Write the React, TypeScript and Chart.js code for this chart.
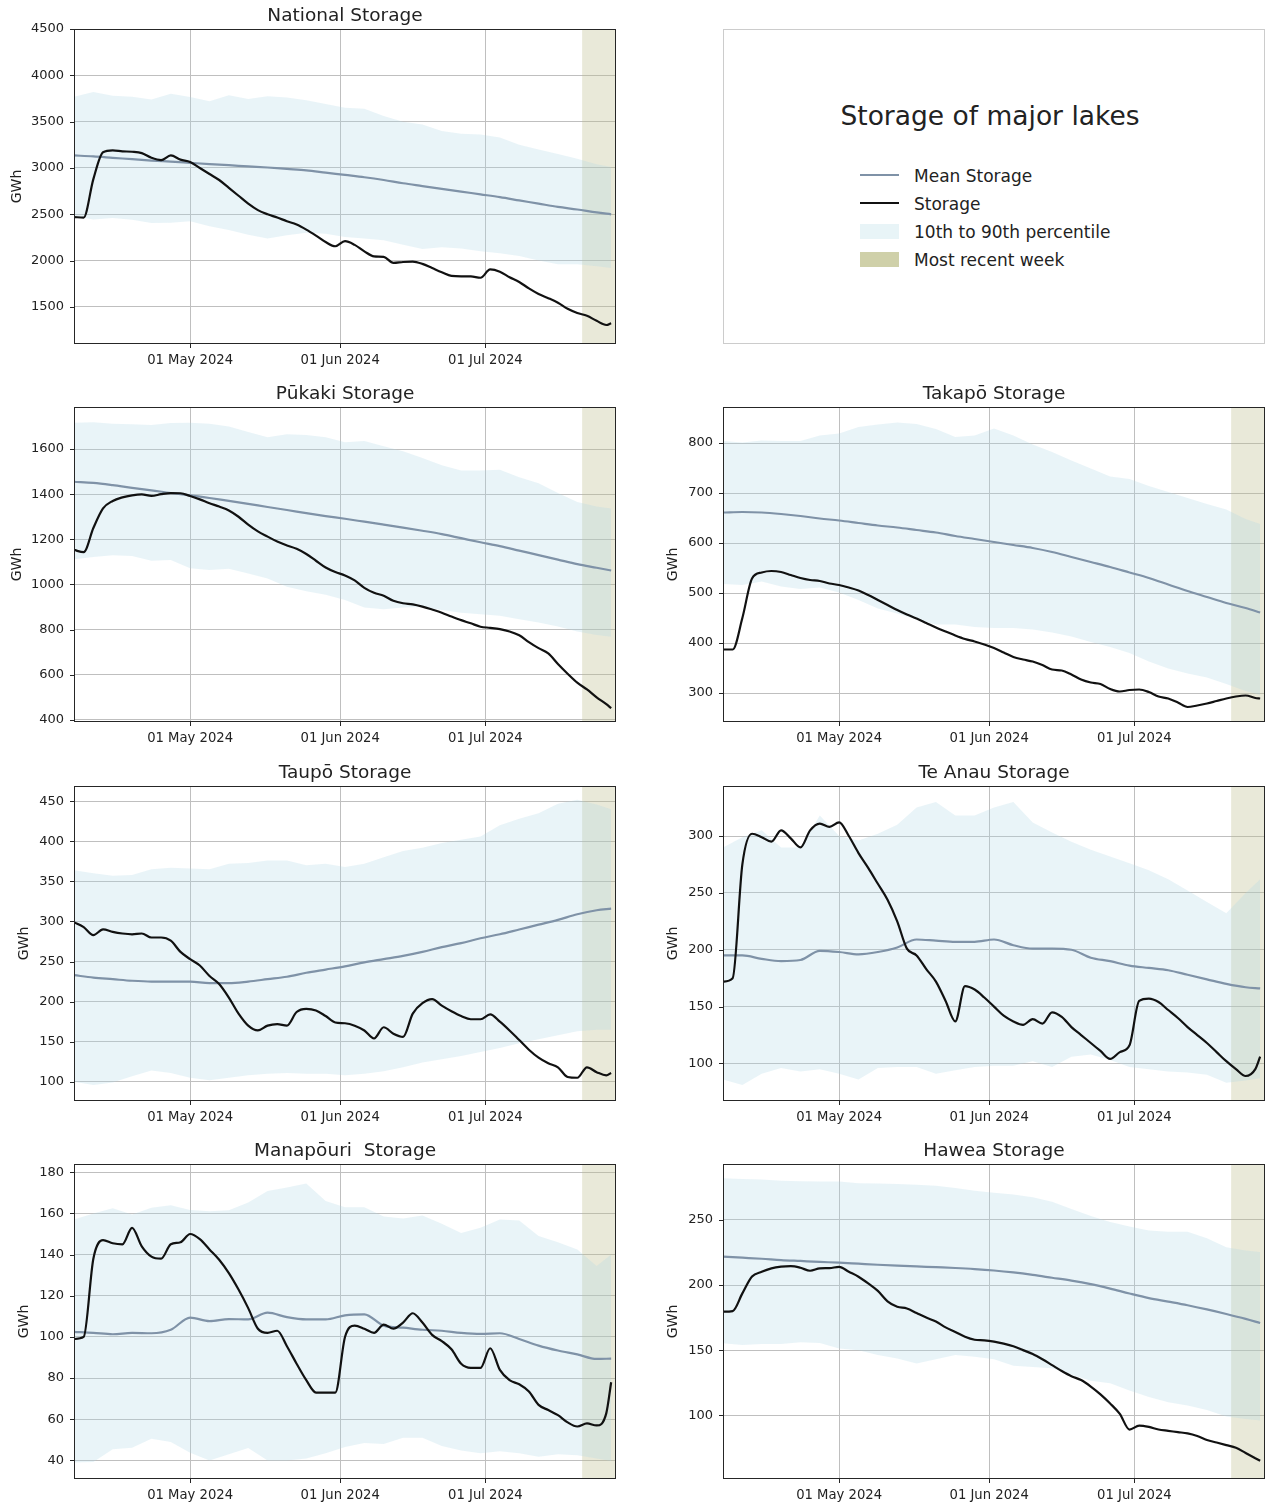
import React, { useEffect, useRef } from "react";
import { Chart, registerables } from "chart.js";

Chart.register(...registerables);

const FONT = "'DejaVu Sans', sans-serif";

// ---- shared x grid (days since 07 Apr 2024) ----
const STORAGE_DAYS = [0, 2, 4, 6, 8, 10, 12, 14, 16, 18, 20, 22, 24, 26, 28, 30, 32, 34, 36, 38, 40, 42, 44, 46, 48, 50, 52, 54, 56, 58, 60, 62, 64, 66, 68, 70, 72, 74, 76, 78, 80, 82, 84, 86, 88, 90, 92, 94, 96, 98, 100, 102, 104, 106, 108, 110, 111];
const BAND_DAYS = [0, 4, 8, 12, 16, 20, 24, 28, 32, 36, 40, 44, 48, 52, 56, 60, 64, 68, 72, 76, 80, 84, 88, 92, 96, 100, 104, 108, 111];
const X_MIN = 0;
const X_MAX = 112;
const X_TICK_DAYS = [24, 55, 85];
const X_TICK_LABELS = ["01 May 2024", "01 Jun 2024", "01 Jul 2024"];
const RECENT_WEEK = [105, 112];

// ---- National ----
const nationalStorage = [2470, 2465, 2880, 3170, 3190, 3180, 3175, 3160, 3110, 3085, 3135, 3090, 3065, 3000, 2935, 2870, 2785, 2700, 2615, 2545, 2500, 2465, 2425, 2390, 2335, 2270, 2200, 2155, 2210, 2170, 2100, 2045, 2040, 1975, 1985, 1990, 1965, 1920, 1875, 1835, 1830, 1830, 1815, 1905, 1880, 1820, 1770, 1700, 1640, 1595, 1545, 1480, 1435, 1405, 1350, 1305, 1325];
const nationalMean = [3135, 3125, 3110, 3095, 3080, 3068, 3055, 3042, 3030, 3017, 3005, 2990, 2975, 2950, 2925, 2900, 2870, 2835, 2805, 2775, 2745, 2715, 2685, 2650, 2615, 2580, 2552, 2520, 2500];
const nationalP90 = [3770, 3820, 3780, 3770, 3740, 3800, 3765, 3720, 3785, 3745, 3775, 3760, 3730, 3690, 3650, 3640, 3560, 3500, 3470, 3400, 3370, 3360, 3330, 3250, 3200, 3150, 3100, 3040, 3010];
const nationalP10 = [2480, 2445, 2460, 2440, 2405, 2410, 2425, 2370, 2330, 2280, 2240, 2275, 2300, 2290, 2255, 2240, 2220, 2170, 2125, 2145, 2130, 2100, 2080, 2050, 2000, 1960, 1960, 1940, 1920];
const nationalTicks = [1500, 2000, 2500, 3000, 3500, 4000, 4500];

// ---- Pukaki ----
const pukakiStorage = [1153, 1143, 1250, 1337, 1370, 1386, 1395, 1399, 1392, 1400, 1405, 1404, 1392, 1377, 1360, 1345, 1328, 1300, 1265, 1235, 1212, 1190, 1173, 1158, 1135, 1105, 1075, 1055, 1040, 1018, 985, 963, 950, 928, 917, 912, 902, 889, 875, 858, 842, 828, 813, 808, 802, 792, 775, 745, 718, 695, 648, 605, 565, 535, 500, 470, 452];
const pukakiMean = [1455, 1450, 1440, 1428, 1417, 1405, 1395, 1383, 1370, 1357, 1343, 1330, 1316, 1303, 1291, 1278, 1265, 1252, 1238, 1223, 1205, 1187, 1170, 1150, 1130, 1110, 1090, 1074, 1062];
const pukakiP90 = [1716, 1718, 1712, 1710, 1706, 1715, 1716, 1712, 1700, 1675, 1652, 1665, 1662, 1652, 1630, 1635, 1612, 1590, 1560, 1528, 1505, 1505, 1508, 1475, 1448, 1405, 1365, 1345, 1337];
const pukakiP10 = [1112, 1122, 1130, 1126, 1105, 1108, 1072, 1064, 1070, 1049, 1027, 990, 970, 955, 931, 898, 890, 898, 900, 887, 875, 868, 862, 846, 832, 814, 792, 776, 769];
const pukakiTicks = [400, 600, 800, 1000, 1200, 1400, 1600];

// ---- Takapo ----
const takapoStorage = [387, 387, 450, 529, 541, 544, 542, 536, 530, 526, 524, 519, 516, 511, 505, 496, 486, 476, 466, 457, 449, 440, 431, 423, 415, 408, 403, 397, 390, 381, 372, 367, 363, 356, 347, 345, 337, 327, 321, 318, 308, 303, 306, 307, 302, 293, 289, 281, 272, 275, 279, 284, 289, 293, 295, 290, 289];
const takapoMean = [661, 662, 661, 658, 654, 649, 645, 640, 635, 631, 626, 621, 614, 608, 602, 596, 590, 582, 572, 562, 552, 541, 530, 517, 504, 492, 480, 470, 461];
const takapoP90 = [804, 801, 805, 804, 804, 815, 819, 832, 837, 841, 838, 828, 812, 815, 829, 815, 797, 782, 765, 749, 733, 728, 714, 702, 690, 678, 667, 648, 638];
const takapoP10 = [518, 516, 523, 513, 508, 511, 501, 486, 469, 459, 447, 437, 437, 432, 430, 430, 427, 421, 413, 402, 392, 380, 363, 349, 339, 331, 318, 304, 296];
const takapoTicks = [300, 400, 500, 600, 700, 800];

// ---- Taupo ----
const taupoStorage = [299, 293, 283, 290, 287, 285, 284, 285, 280, 280, 276, 262, 253, 245, 232, 222, 205, 185, 170, 164, 170, 172, 170, 187, 191, 189, 182, 174, 173, 170, 164, 154, 168, 160, 156, 185, 198, 203, 195, 188, 182, 178, 178, 184, 175, 164, 152, 140, 130, 123, 118, 106, 105, 118, 112, 108, 111];
const taupoMean = [233, 230, 228, 226, 225, 225, 225, 223, 223, 225, 228, 231, 236, 240, 244, 249, 253, 257, 262, 268, 273, 279, 284, 290, 296, 302, 309, 314, 316];
const taupoP90 = [364, 360, 357, 358, 365, 367, 366, 365, 372, 373, 376, 376, 370, 372, 368, 372, 380, 388, 392, 398, 402, 406, 420, 428, 435, 447, 452, 446, 440];
const taupoP10 = [100, 96, 99, 107, 114, 111, 105, 102, 105, 108, 110, 111, 110, 110, 108, 110, 113, 118, 124, 128, 132, 137, 142, 148, 153, 158, 163, 165, 165];
const taupoTicks = [100, 150, 200, 250, 300, 350, 400, 450];

// ---- Te Anau ----
const teAnauStorage = [172, 175, 275, 302, 299, 295, 305, 298, 290, 305, 311, 308, 312, 300, 285, 272, 258, 244, 225, 201, 195, 183, 172, 155, 137, 168, 165, 158, 150, 142, 137, 134, 139, 135, 145, 141, 132, 125, 118, 111, 104, 110, 116, 155, 157, 154, 147, 140, 132, 125, 118, 110, 102, 95, 89, 95, 106];
const teAnauMean = [195, 195, 192, 190, 191, 199, 198, 196, 198, 202, 209, 208, 207, 207, 209, 204, 201, 201, 200, 193, 190, 186, 184, 182, 178, 174, 170, 167, 166];
const teAnauP90 = [290, 299, 305, 290, 290, 318, 300, 296, 302, 310, 325, 330, 318, 318, 325, 330, 312, 303, 295, 288, 282, 276, 270, 262, 252, 242, 232, 250, 262];
const teAnauP10 = [86, 81, 91, 96, 93, 95, 91, 86, 96, 97, 97, 91, 94, 97, 98, 98, 102, 97, 106, 108, 103, 97, 95, 93, 92, 90, 83, 85, 87];
const teAnauTicks = [100, 150, 200, 250, 300];

// ---- Manapouri ----
const manapouriStorage = [99, 100, 138, 147, 145.5, 145, 153, 144, 139, 138, 145, 146, 150, 147.5, 142.5, 137.5, 131, 123, 114, 104, 102, 103, 95.5, 87, 79, 73, 73, 73, 100, 105.5, 104, 102, 106, 104, 107, 111.5, 107, 101, 98, 94, 87, 85, 85, 94.5, 84, 79, 77, 73.5, 67, 64.5, 62, 58.5, 56.5, 58, 57, 63, 78];
const manapouriMean = [102.5, 102, 101.3, 102, 101.8, 103.5, 109.4, 107.7, 108.7, 108.5, 111.8, 109.6, 108.5, 108.5, 110.5, 111, 105.5, 104.5, 103.5, 103, 102, 101.5, 101.8, 99, 95.8, 93.4, 91.5, 89.3, 89.5];
const manapouriP90 = [157, 160, 162.5, 159.5, 162.8, 164, 161.7, 161, 161.5, 165.3, 170.9, 172.6, 174.5, 166, 163, 163, 158.5, 157.5, 159, 155, 150.5, 153, 157, 156.5, 149, 146, 142.5, 134.5, 140];
const manapouriP10 = [39, 39.3, 45.5, 46.2, 50.5, 49, 43.7, 40, 43, 46, 40, 40, 41, 43.5, 46.5, 48.5, 48, 51, 51, 47, 44.8, 43.5, 44.5, 43.5, 41.8, 43, 42.5, 41, 39.7];
const manapouriTicks = [40, 60, 80, 100, 120, 140, 160, 180];

// ---- Hawea ----
const haweaStorage = [179.5, 180, 193.6, 206.5, 210.2, 212.8, 214.1, 214.5, 213.3, 211, 212.8, 213, 214, 210.2, 206.4, 201.3, 195.5, 187.5, 183.3, 182, 178.5, 175, 172, 167.5, 164, 160.3, 158, 157.5, 156.5, 155, 153, 150, 147, 143, 138.5, 134, 130, 127, 122, 116, 109, 101, 89, 92, 91, 89, 88, 87, 86, 84, 81, 79, 77, 75, 71, 67, 65];
const haweaMean = [221.8, 221, 220.2, 219.2, 218.5, 217.8, 217.2, 216.4, 215.6, 214.9, 214.3, 213.7, 213.1, 212.3, 211.2, 209.7, 207.8, 205.6, 203.4, 200.7, 197.3, 193.5, 190, 187.3, 184.5, 181.3, 177.8, 174, 170.8];
const haweaP90 = [282, 281.5, 281, 280.2, 279.8, 279.5, 279.5, 278.2, 278, 277.7, 277, 276.2, 274.5, 272.5, 271, 269.5, 267.5, 264, 258.5, 253, 248.5, 245, 242, 241, 241, 236, 229, 226.5, 225.4];
const haweaP10 = [155.2, 154, 154.8, 154.8, 156, 155.5, 151.3, 150, 146.2, 143.6, 139.8, 143, 146.2, 145, 143, 138, 137, 136, 131, 126.5, 124.5, 119, 114, 110, 107.5, 104, 99, 97, 96];
const haweaTicks = [100, 150, 200, 250];

// ---- styling ----
const STORAGE_COLOR = "#111111";
const MEAN_COLOR = "#7f92a7";
const BAND_FILL = "rgba(173, 216, 230, 0.27)";
const RECENT_FILL = "rgba(189, 189, 140, 0.33)";
const GRID_COLOR = "#bfbfbf";
const TEXT_COLOR = "#222222";

type Panel = {
  title: string;
  storage: number[];
  mean: number[];
  p90: number[];
  p10: number[];
  ticks: number[];
  yMin: number;
  yMax: number;
  col: number;
  row: number;
  gwhPad: number;
};

const PANELS: Panel[] = [
  { title: "National Storage", storage: nationalStorage, mean: nationalMean, p90: nationalP90, p10: nationalP10, ticks: nationalTicks, yMin: 1100, yMax: 4500, col: 0, row: 0, gwhPad: 8.6 },
  { title: "Pūkaki Storage", storage: pukakiStorage, mean: pukakiMean, p90: pukakiP90, p10: pukakiP10, ticks: pukakiTicks, yMin: 391, yMax: 1786, col: 0, row: 1, gwhPad: 8.6 },
  { title: "Takapō Storage", storage: takapoStorage, mean: takapoMean, p90: takapoP90, p10: takapoP10, ticks: takapoTicks, yMin: 242, yMax: 872, col: 1, row: 1, gwhPad: 15.6 },
  { title: "Taupō Storage", storage: taupoStorage, mean: taupoMean, p90: taupoP90, p10: taupoP10, ticks: taupoTicks, yMin: 76, yMax: 469, col: 0, row: 2, gwhPad: 15.6 },
  { title: "Te Anau Storage", storage: teAnauStorage, mean: teAnauMean, p90: teAnauP90, p10: teAnauP10, ticks: teAnauTicks, yMin: 67, yMax: 344, col: 1, row: 2, gwhPad: 15.6 },
  { title: "Manapōuri  Storage", storage: manapouriStorage, mean: manapouriMean, p90: manapouriP90, p10: manapouriP10, ticks: manapouriTicks, yMin: 31, yMax: 184, col: 0, row: 3, gwhPad: 15.6 },
  { title: "Hawea Storage", storage: haweaStorage, mean: haweaMean, p90: haweaP90, p10: haweaP10, ticks: haweaTicks, yMin: 51, yMax: 293, col: 1, row: 3, gwhPad: 15.6 },
];

// layout
const PLOT_LEFT = [74, 723];
const PLOT_TOP = [29, 407, 786, 1164];
const PLOT_W = 542;
const PLOT_H = 315;
const Y_AXIS_W = 74;
const TITLE_H = 29;
const X_AXIS_H = 27;
const RIGHT_PAD = [10, 3];

const zip = (xs: number[], ys: number[]) => xs.map((x, i) => ({ x, y: ys[i] }));

const framePlugin = {
  id: "frameAndSpan",
  beforeDatasetsDraw(chart: any) {
    const { ctx, chartArea: a, scales } = chart;
    const x = scales.x;
    const x0 = x.getPixelForValue(RECENT_WEEK[0]);
    const x1 = x.getPixelForValue(RECENT_WEEK[1]);
    ctx.save();
    ctx.fillStyle = RECENT_FILL;
    ctx.fillRect(x0, a.top, x1 - x0, a.bottom - a.top);
    ctx.restore();
  },
  afterDraw(chart: any) {
    const { ctx, chartArea: a, scales } = chart;
    const { x, y } = scales;
    ctx.save();
    ctx.strokeStyle = "#262626";
    ctx.lineWidth = 1;
    ctx.strokeRect(Math.round(a.left) + 0.5, Math.round(a.top) + 0.5, Math.round(a.right - a.left) - 1, Math.round(a.bottom - a.top) - 1);
    ctx.beginPath();
    x.ticks.forEach((t: any) => {
      const px = Math.round(x.getPixelForValue(t.value)) + 0.5;
      ctx.moveTo(px, a.bottom);
      ctx.lineTo(px, a.bottom + 4);
    });
    y.ticks.forEach((t: any) => {
      const py = Math.round(y.getPixelForValue(t.value)) + 0.5;
      ctx.moveTo(a.left - 4, py);
      ctx.lineTo(a.left, py);
    });
    ctx.stroke();
    ctx.restore();
  },
};

function StoragePanel({ p }: { p: Panel }) {
  const ref = useRef<HTMLCanvasElement | null>(null);
  const width = Y_AXIS_W + PLOT_W + RIGHT_PAD[p.col];
  const height = TITLE_H + PLOT_H + X_AXIS_H;
  const left = PLOT_LEFT[p.col] - Y_AXIS_W;
  const top = PLOT_TOP[p.row] - TITLE_H;

  useEffect(() => {
    if (!ref.current) return;
    const chart = new Chart(ref.current, {
      type: "line",
      data: {
        datasets: [
          { label: "Storage", data: zip(STORAGE_DAYS, p.storage), borderColor: STORAGE_COLOR, borderWidth: 2.2, pointRadius: 0, fill: false, cubicInterpolationMode: "monotone" },
          { label: "Mean Storage", data: zip(BAND_DAYS, p.mean), borderColor: MEAN_COLOR, borderWidth: 2.2, pointRadius: 0, fill: false, cubicInterpolationMode: "monotone" },
          { label: "p90", data: zip(BAND_DAYS, p.p90), borderColor: "rgba(0,0,0,0)", borderWidth: 0, backgroundColor: BAND_FILL, pointRadius: 0, fill: "+1", tension: 0 },
          { label: "p10", data: zip(BAND_DAYS, p.p10), borderColor: "rgba(0,0,0,0)", borderWidth: 0, pointRadius: 0, fill: false, tension: 0 },
        ],
      },
      options: {
        animation: false,
        responsive: false,
        maintainAspectRatio: false,
        events: [],
        layout: { padding: { left: 0, right: RIGHT_PAD[p.col], top: 0, bottom: 0 } },
        plugins: {
          legend: { display: false },
          tooltip: { enabled: false },
          title: {
            display: true,
            fullSize: false,
            text: p.title,
            color: TEXT_COLOR,
            font: { family: FONT, size: 18.5, weight: "normal" },
            padding: { top: 5, bottom: 1.8 },
          },
        },
        scales: {
          x: {
            type: "linear",
            min: X_MIN,
            max: X_MAX,
            afterBuildTicks: (s: any) => {
              s.ticks = X_TICK_DAYS.map((v) => ({ value: v }));
            },
            afterFit: (s: any) => {
              s.height = X_AXIS_H;
            },
            ticks: {
              autoSkip: false,
              maxRotation: 0,
              padding: 9,
              color: TEXT_COLOR,
              font: { family: FONT, size: 13.2 },
              callback: (_v: any, i: number) => X_TICK_LABELS[i],
            },
            grid: { color: GRID_COLOR, lineWidth: 1, drawTicks: false },
            border: { display: false },
          },
          y: {
            type: "linear",
            min: p.yMin,
            max: p.yMax,
            afterBuildTicks: (s: any) => {
              s.ticks = p.ticks.map((v) => ({ value: v }));
            },
            afterFit: (s: any) => {
              s.width = Y_AXIS_W;
            },
            ticks: {
              padding: 10,
              color: TEXT_COLOR,
              font: { family: FONT, size: 13 },
              callback: (v: any) => String(v),
            },
            grid: { color: GRID_COLOR, lineWidth: 1, drawTicks: false },
            border: { display: false },
            title: {
              display: true,
              text: "GWh",
              color: TEXT_COLOR,
              font: { family: FONT, size: 14 },
              padding: { top: p.gwhPad, bottom: 0 },
            },
          },
        },
      } as any,
      plugins: [framePlugin as any],
    });
    return () => chart.destroy();
  }, [p]);

  return (
    <canvas
      ref={ref}
      width={width}
      height={height}
      style={{ position: "absolute", left, top, width, height }}
    />
  );
}

function LegendPanel() {
  const boxLeft = 723;
  const boxTop = 29;
  const row = (top: number, text: string) => (
    <div style={{ position: "absolute", left: 190, top, fontSize: 17, lineHeight: "17px", whiteSpace: "nowrap", color: TEXT_COLOR }}>{text}</div>
  );
  return (
    <div
      style={{
        position: "absolute",
        left: boxLeft,
        top: boxTop,
        width: PLOT_W,
        height: PLOT_H,
        border: "1px solid #cccccc",
        boxSizing: "border-box",
        fontFamily: FONT,
        background: "#ffffff",
      }}
    >
      <div style={{ position: "absolute", left: 0, top: 73, width: 532, textAlign: "center", fontSize: 26.5, lineHeight: "26px", color: TEXT_COLOR, whiteSpace: "nowrap" }}>
        Storage of major lakes
      </div>
      <div style={{ position: "absolute", left: 136, top: 144, width: 39, height: 2, background: MEAN_COLOR }} />
      <div style={{ position: "absolute", left: 136, top: 172, width: 39, height: 2, background: STORAGE_COLOR }} />
      <div style={{ position: "absolute", left: 136, top: 194, width: 39, height: 15, background: "#e8f4f7" }} />
      <div style={{ position: "absolute", left: 136, top: 222, width: 39, height: 15, background: "#cfd0a9" }} />
      {row(137.5, "Mean Storage")}
      {row(165.5, "Storage")}
      {row(193.5, "10th to 90th percentile")}
      {row(221.5, "Most recent week")}
    </div>
  );
}

export default function App() {
  return (
    <div style={{ position: "absolute", left: 0, top: 0, width: 1269, height: 1506, background: "#ffffff", overflow: "hidden" }}>
      {PANELS.map((p) => (
        <StoragePanel key={p.title} p={p} />
      ))}
      <LegendPanel />
    </div>
  );
}
